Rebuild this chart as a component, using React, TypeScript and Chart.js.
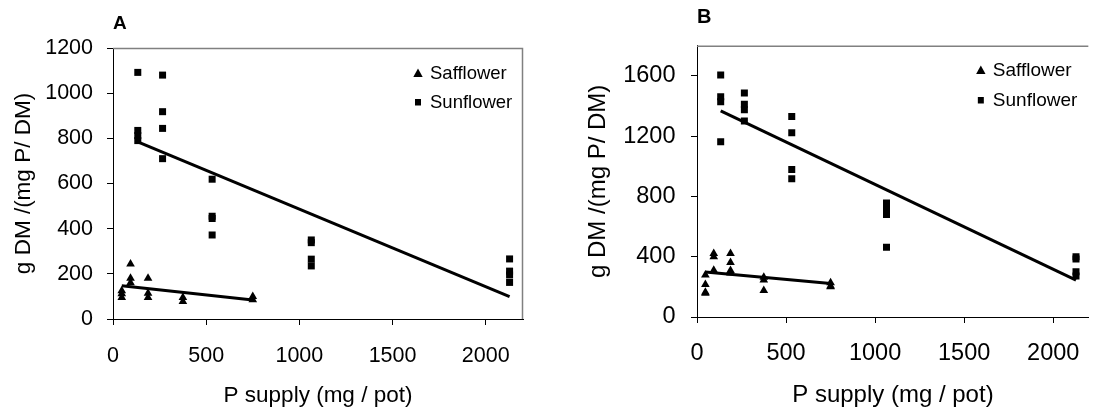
import React, { useEffect, useRef } from 'react';
import { Chart, registerables } from 'chart.js';

Chart.register(...registerables);

const FONT = '"Liberation Sans", Arial, Helvetica, sans-serif';

// ---------- data ----------
const panelLetters = ['A', 'B'];
const seriesLabels = ['Safflower', 'Sunflower'];
const xTitle = 'P supply (mg / pot)';
const yTitle = 'g DM /(mg P/ DM)';

const safflowerSupply = [47, 94, 188, 375, 750];
const sunflowerSupply = [133, 266, 532, 1064, 2128];

const safflowerA = [[125, 112, 95], [243, 180, 160], [180, 114, 95], [95, 78], [100, 85]];
const sunflowerA = [[1092, 835, 812, 790], [1080, 918, 844, 710], [619, 455, 445, 372], [350, 338, 265, 235], [266, 212, 195, 162]];
const safflowerB = [[278, 215, 165, 158], [422, 400, 310], [422, 362, 308, 292], [263, 245, 175], [228, 205, 200]];
const sunflowerB = [[1605, 1462, 1428, 1162], [1487, 1411, 1375, 1300], [1331, 1223, 978, 918], [756, 718, 680, 463], [400, 385, 300, 272]];

const safflowerTrendX = [47, 750];
const sunflowerTrendX = [133, 2128];
const safflowerTrendA = [147, 84];
const sunflowerTrendA = [784, 99];
const safflowerTrendB = [298, 222];
const sunflowerTrendB = [1367, 245];

const xTicks = [0, 500, 1000, 1500, 2000];
const xMax = 2200;
const yTicksA = [0, 200, 400, 600, 800, 1000, 1200];
const yMaxA = 1200;
const yTicksB = [0, 400, 800, 1200, 1600];
const yMaxB = 1800;

// ---------- helpers ----------
const toPoints = (xs: number[], groups: number[][]) =>
  groups.flatMap((g, i) => g.map((y) => ({ x: xs[i], y })));
const toLine = (xs: number[], ys: number[]) => xs.map((x, i) => ({ x, y: ys[i] }));

const framePlugin = {
  id: 'frameBorder',
  afterDraw(chart: any, _args: any, opts: any) {
    const { ctx, chartArea: ca } = chart;
    ctx.save();
    ctx.strokeStyle = '#808080';
    ctx.lineWidth = 1.5;
    ctx.beginPath();
    ctx.moveTo(ca.left, ca.top + 0.5);
    ctx.lineTo(ca.right - 0.5, ca.top + 0.5);
    if (opts.drawRight) ctx.lineTo(ca.right - 0.5, ca.bottom);
    ctx.stroke();
    ctx.restore();
  },
};

const legendPlugin = {
  id: 'insetLegend',
  afterDraw(chart: any, _args: any, opts: any) {
    const { ctx, chartArea: ca } = chart;
    ctx.save();
    ctx.fillStyle = '#000';
    ctx.font = `${opts.size}px ${FONT}`;
    ctx.textBaseline = 'middle';
    ctx.textAlign = 'left';
    let row = 0;
    chart.data.datasets.forEach((ds: any) => {
      if (!ds.inLegend) return;
      const y = ca.top + opts.y0 + row * opts.dy;
      const mx = ca.right - opts.mx;
      ctx.beginPath();
      if (ds.pointStyle === 'triangle') {
        ctx.moveTo(mx, y - 4.5);
        ctx.lineTo(mx + 4.7, y + 4);
        ctx.lineTo(mx - 4.7, y + 4);
        ctx.closePath();
      } else {
        ctx.rect(mx - 3, y - 3, 6, 6.5);
      }
      ctx.fill();
      ctx.fillText(ds.label, ca.right - opts.tx, y + 0.5);
      row++;
    });
    ctx.restore();
  },
};

type PanelStyle = {
  letterSize: number;
  tickSize: number;
  titleSize: number;
  legendSize: number;
  padTop: number;
  padRight: number;
  letterGap: number;
  yAxisW: number;
  xAxisH: number;
  xTickPad: number;
  yTickPad: number;
  xTitlePad: number;
  yTitlePad: number;
  legend: { mx: number; tx: number; y0: number; dy: number };
  drawRight: boolean;
};

type PanelData = {
  letter: string;
  safflower: number[][];
  sunflower: number[][];
  safflowerTrend: number[];
  sunflowerTrend: number[];
  yTicks: number[];
  yMax: number;
};

const plainLabel = (v: any) => String(v);

function ChartPanel({ data, style, left }: { data: PanelData; style: PanelStyle; left: number }) {
  const ref = useRef<HTMLCanvasElement>(null);
  useEffect(() => {
    if (!ref.current) return;
    const tickFont = { family: FONT, size: style.tickSize };
    const titleFont = { family: FONT, size: style.titleSize };
    const chart = new Chart(ref.current, {
      type: 'scatter',
      data: {
        datasets: [
          {
            label: seriesLabels[0],
            data: toPoints(safflowerSupply, data.safflower),
            pointStyle: 'triangle',
            pointRadius: 5,
            pointHoverRadius: 5,
            backgroundColor: '#000',
            borderColor: '#000',
            borderWidth: 0,
            pointBorderWidth: 0,
            inLegend: true,
          } as any,
          {
            label: seriesLabels[1],
            data: toPoints(sunflowerSupply, data.sunflower),
            pointStyle: 'rect',
            pointRadius: 4.95,
            pointHoverRadius: 4.95,
            backgroundColor: '#000',
            borderColor: '#000',
            borderWidth: 0,
            pointBorderWidth: 0,
            inLegend: true,
          } as any,
          {
            label: 'Safflower trend',
            data: toLine(safflowerTrendX, data.safflowerTrend),
            showLine: true,
            pointRadius: 0,
            borderColor: '#000',
            backgroundColor: '#000',
            borderWidth: 3,
            fill: false,
          } as any,
          {
            label: 'Sunflower trend',
            data: toLine(sunflowerTrendX, data.sunflowerTrend),
            showLine: true,
            pointRadius: 0,
            borderColor: '#000',
            backgroundColor: '#000',
            borderWidth: 3,
            fill: false,
          } as any,
        ],
      },
      options: {
        responsive: false,
        animation: false,
        devicePixelRatio: 1,
        events: [],
        layout: { padding: { top: style.padTop, right: style.padRight, left: 0, bottom: 0 } },
        plugins: {
          legend: { display: false },
          tooltip: { enabled: false },
          title: {
            display: true,
            text: data.letter,
            align: 'start',
            fullSize: false,
            color: '#000',
            font: { family: FONT, size: style.letterSize, weight: 'bold' },
            padding: { top: 0, bottom: style.letterGap },
          },
          frameBorder: { drawRight: style.drawRight },
          insetLegend: { ...style.legend, size: style.legendSize },
        } as any,
        scales: {
          x: {
            type: 'linear',
            position: 'bottom',
            min: 0,
            max: xMax,
            afterFit: (s: any) => {
              s.height = style.xAxisH;
            },
            afterBuildTicks: (s: any) => {
              s.ticks = xTicks.map((v) => ({ value: v }));
            },
            ticks: { color: '#000', font: tickFont, padding: style.xTickPad, maxRotation: 0, autoSkip: false, callback: plainLabel },
            grid: { display: true, drawOnChartArea: false, drawTicks: true, tickLength: 6, tickColor: '#000', tickWidth: 1 },
            border: { display: true, color: '#000', width: 1 },
            title: { display: true, text: xTitle, color: '#000', font: titleFont, padding: { top: 0, bottom: style.xTitlePad } },
          },
          y: {
            type: 'linear',
            position: 'left',
            min: 0,
            max: data.yMax,
            afterFit: (s: any) => {
              s.width = style.yAxisW;
            },
            afterBuildTicks: (s: any) => {
              s.ticks = data.yTicks.map((v) => ({ value: v }));
            },
            ticks: { color: '#000', font: tickFont, padding: style.yTickPad, autoSkip: false, callback: plainLabel },
            grid: { display: true, drawOnChartArea: false, drawTicks: true, tickLength: 6, tickColor: '#000', tickWidth: 1 },
            border: { display: true, color: '#000', width: 1 },
            title: { display: true, text: yTitle, color: '#000', font: titleFont, padding: { top: style.yTitlePad, bottom: 0 } },
          },
        } as any,
      },
      plugins: [framePlugin, legendPlugin],
    } as any);
    return () => chart.destroy();
  }, []);
  return (
    <canvas
      ref={ref}
      width={548}
      height={410}
      style={{ position: 'absolute', left, top: 0, width: 548, height: 410, display: 'block' }}
    />
  );
}

const panelA: PanelData = {
  letter: panelLetters[0],
  safflower: safflowerA,
  sunflower: sunflowerA,
  safflowerTrend: safflowerTrendA,
  sunflowerTrend: sunflowerTrendA,
  yTicks: yTicksA,
  yMax: yMaxA,
};
const panelB: PanelData = {
  letter: panelLetters[1],
  safflower: safflowerB,
  sunflower: sunflowerB,
  safflowerTrend: safflowerTrendB,
  sunflowerTrend: sunflowerTrendB,
  yTicks: yTicksB,
  yMax: yMaxB,
};

const styleA: PanelStyle = {
  letterSize: 19,
  tickSize: 21.5,
  titleSize: 22.5,
  legendSize: 18.5,
  padTop: 12,
  padRight: 25,
  letterGap: 13.2,
  yAxisW: 113,
  xAxisH: 91,
  xTickPad: 18.5,
  yTickPad: 14,
  xTitlePad: 0.5,
  yTitlePad: 10.5,
  legend: { mx: 105, tx: 93, y0: 25, dy: 29 },
  drawRight: true,
};
const styleB: PanelStyle = {
  letterSize: 20,
  tickSize: 23.5,
  titleSize: 24,
  legendSize: 19,
  padTop: 5.2,
  padRight: 0,
  letterGap: 16.5,
  yAxisW: 149,
  xAxisH: 93,
  xTickPad: 16,
  yTickPad: 15.5,
  xTitlePad: 0,
  yTitlePad: 36,
  legend: { mx: 108, tx: 96, y0: 24.3, dy: 30 },
  drawRight: false,
};

export default function App() {
  return (
    <div style={{ position: 'absolute', left: 0, top: 0, width: 1096, height: 410, background: '#fff' }}>
      <ChartPanel data={panelA} style={styleA} left={0} />
      <ChartPanel data={panelB} style={styleB} left={548} />
    </div>
  );
}
